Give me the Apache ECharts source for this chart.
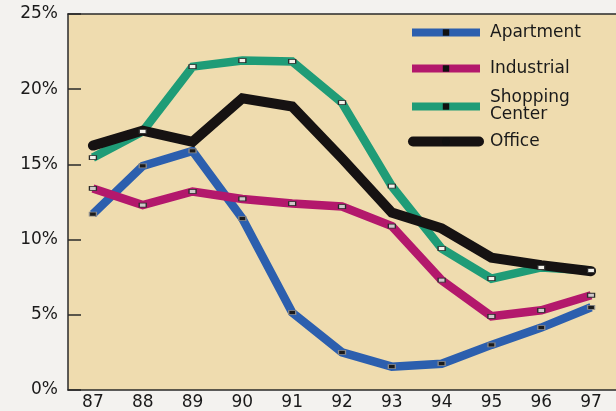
<!DOCTYPE html>
<html>
<head>
<meta charset="utf-8">
<script src="https://cdn.jsdelivr.net/npm/echarts@6/dist/echarts.min.js"></script>
<style>
  html, body { margin: 0; padding: 0; background: #f3f2ef; }
  #main { width: 616px; height: 411px; }
</style>
</head>
<body>
<div id="main"></div>
<script>
// data (percent)
var years = ['87', '88', '89', '90', '91', '92', '93', '94', '95', '96', '97'];
var apartment = [11.7, 14.9, 15.9, 11.4, 5.15, 2.5, 1.55, 1.75, 3.0, 4.15, 5.5];
var industrial = [13.4, 12.3, 13.2, 12.7, 12.4, 12.2, 10.9, 7.3, 4.9, 5.3, 6.3];
var shopping = [15.45, 17.2, 21.5, 21.9, 21.85, 19.1, 13.55, 9.4, 7.4, 8.15, 7.95];
var office = [16.25, 17.25, 16.5, 19.4, 18.85, 15.4, 11.8, 10.75, 8.8, 8.3, 7.9];

var FONT = 'DejaVu Sans';
var BLUE = '#2c5fae', PINK = '#b3186c', GREEN = '#1f9c77', BLACK = '#161212';

// one legend per item so each row sits where it does in the picture
function legendRow(name, top, color, opts) {
  opts = opts || {};
  return {
    data: [name],
    orient: 'vertical',
    left: opts.left || 408,
    top: top,
    padding: 0,
    itemWidth: opts.itemWidth || 68,
    itemHeight: opts.itemHeight || 8,
    lineStyle: { color: color, width: opts.width || 8, cap: opts.cap || 'butt' },
    itemStyle: { color: '#111', borderWidth: 0 },
    textStyle: {
      fontFamily: FONT, fontSize: 17, color: '#1a1a1a',
      lineHeight: 17, padding: opts.padding || [0, 0, 0, 5]
    }
  };
}

function lineSeries(name, data, color, marker) {
  return {
    name: name,
    type: 'line',
    data: data,
    symbol: 'rect',
    symbolSize: [7, 4],
    showAllSymbol: true,
    itemStyle: { color: marker.fill, borderColor: marker.border, borderWidth: 1 },
    lineStyle: { color: color, width: 8.5, join: 'miter' },
    emphasis: { disabled: true }
  };
}

var myChart = echarts.init(document.getElementById('main'));
myChart.setOption({
  backgroundColor: '#f3f2ef',
  animation: false,
  grid: {
    left: 68, right: 0, top: 14, bottom: 21,
    show: true, backgroundColor: '#efdcaf', borderWidth: 0
  },
  legend: [
    legendRow('Apartment', 24, BLUE),
    legendRow('Industrial', 60, PINK),
    legendRow('Shopping\nCenter', 86, GREEN, { padding: [0, 0, 7, 5] }),
    legendRow('Office', 133, BLACK, { left: 408, itemWidth: 66, itemHeight: 10, width: 10, cap: 'round', padding: [0, 0, 0, 6] })
  ],
  xAxis: [
    {
      type: 'category',
      data: years,
      boundaryGap: true,
      axisLine: { lineStyle: { color: '#2a2a2a', width: 1.5 } },
      axisTick: { inside: true, length: 9, lineStyle: { color: '#2a2a2a', width: 1.5 } },
      axisLabel: { fontFamily: FONT, fontSize: 17, color: '#1a1a1a', margin: 4 },
      splitLine: { show: false }
    },
    {
      // top edge of the plot
      type: 'category',
      data: years,
      position: 'top',
      axisLine: { lineStyle: { color: '#2a2a2a', width: 1.5 } },
      axisTick: { show: false },
      axisLabel: { show: false }
    }
  ],
  yAxis: {
    type: 'value',
    min: 0,
    max: 25,
    interval: 5,
    axisLine: { show: true, lineStyle: { color: '#2a2a2a', width: 1.5 } },
    axisTick: { show: true, inside: true, length: 13, lineStyle: { color: '#2a2a2a', width: 1.5 } },
    axisLabel: { fontFamily: FONT, fontSize: 17, color: '#1a1a1a', margin: 10, formatter: '{value}%' },
    splitLine: { show: false }
  },
  series: [
    lineSeries('Apartment', apartment, BLUE, { fill: '#1b1b1b', border: '#8a8a8a' }),
    lineSeries('Industrial', industrial, PINK, { fill: '#cfc7c9', border: '#2a2a2a' }),
    lineSeries('Shopping\nCenter', shopping, GREEN, { fill: '#f3f1ea', border: '#2a2a2a' }),
    {
      name: 'Office',
      type: 'line',
      data: office,
      symbol: 'none',
      lineStyle: { color: BLACK, width: 10, cap: 'round', join: 'miter' },
      emphasis: { disabled: true }
    }
  ]
});
</script>
</body>
</html>
